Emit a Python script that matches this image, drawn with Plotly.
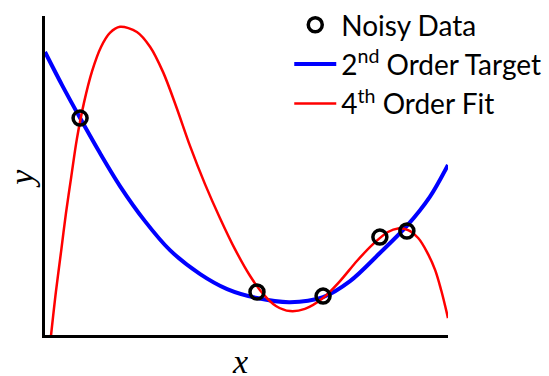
import plotly.graph_objects as go

# Noisy data points
data_x = [0.087, 0.526, 0.690, 0.831, 0.898]
data_y = [0.680, 0.135, 0.122, 0.307, 0.326]

# 2nd order target
target_x = [0.0, 0.042, 0.087, 0.136, 0.186, 0.248, 0.310, 0.385, 0.452, 0.526, 0.608,
            0.690, 0.757, 0.831, 0.898, 0.955, 1.0]
target_y = [0.887, 0.784, 0.680, 0.571, 0.467, 0.357, 0.266, 0.191, 0.144, 0.116, 0.103,
            0.119, 0.169, 0.257, 0.342, 0.433, 0.533]

# 4th order fit
fit_x = [0.015, 0.027, 0.040, 0.052, 0.065, 0.079, 0.097, 0.117, 0.139, 0.161, 0.186,
         0.228, 0.261, 0.293, 0.325, 0.360, 0.397, 0.434, 0.471, 0.509, 0.541, 0.573,
         0.608, 0.645, 0.690, 0.732, 0.774, 0.814, 0.851, 0.876, 0.901, 0.926, 0.948,
         0.968, 0.983, 0.993, 1.0]
fit_y = [0.000, 0.135, 0.263, 0.382, 0.495, 0.614, 0.730, 0.828, 0.903, 0.947, 0.966,
         0.950, 0.903, 0.824, 0.718, 0.592, 0.473, 0.367, 0.270, 0.185, 0.129, 0.091,
         0.075, 0.082, 0.116, 0.169, 0.232, 0.285, 0.323, 0.334, 0.329, 0.304, 0.260,
         0.204, 0.141, 0.091, 0.053]

names = ["Noisy Data", "2<sup>nd</sup> Order Target", "4<sup>th</sup> Order Fit"]

fig = go.Figure()
fig.add_trace(go.Scatter(x=target_x, y=target_y, mode="lines", name=names[1],
                         line=dict(color="rgb(0,0,255)", width=4, shape="spline", smoothing=0.9),
                         legendrank=2, legendgroup="b"))
fig.add_trace(go.Scatter(x=fit_x, y=fit_y, mode="lines", name=names[2],
                         line=dict(color="rgb(255,0,0)", width=2.5, shape="spline", smoothing=0.9),
                         legendrank=3, legendgroup="c"))
fig.add_trace(go.Scatter(x=data_x, y=data_y, mode="markers", name=names[0],
                         marker=dict(symbol="circle-open", size=14, color="black",
                                     line=dict(width=3.5, color="black")),
                         legendrank=1, legendgroup="a"))

label_font = dict(family="Liberation Serif", size=34, color="black")

fig.update_layout(
    width=549, height=376,
    margin=dict(l=0, r=0, t=0, b=0),
    plot_bgcolor="white", paper_bgcolor="white",
    showlegend=True,
    legend=dict(x=0.995, y=1.0, xanchor="right", yanchor="top", tracegroupgap=0,
                font=dict(family="Lato", size=28, color="black"),
                bgcolor="rgba(0,0,0,0)", itemwidth=42),
    xaxis=dict(range=[0, 1], domain=[0.082, 0.816], showgrid=False, zeroline=False,
               showticklabels=False, ticks="",
               showline=True, linecolor="black", linewidth=3),
    yaxis=dict(range=[0, 1], domain=[0.109, 0.9575], showgrid=False, zeroline=False,
               showticklabels=False, ticks="",
               showline=True, linecolor="black", linewidth=3),
)
fig.add_annotation(text="<i>x</i>", xref="paper", yref="paper", x=0.437, y=0.040,
                   xanchor="center", yanchor="middle", height=28, valign="middle",
                   showarrow=False, font=label_font)
fig.add_annotation(text="<i>y</i>", xref="paper", yref="paper", x=0.040, y=0.527,
                   xanchor="center", yanchor="middle", textangle=-90, showarrow=False,
                   font=label_font)
fig.add_annotation(text="<i>y</i>", xref="paper", yref="paper", x=1.025, y=0.559,
                   xanchor="center", yanchor="middle", textangle=-90, showarrow=False,
                   font=label_font)

fig.write_html("out.html")
